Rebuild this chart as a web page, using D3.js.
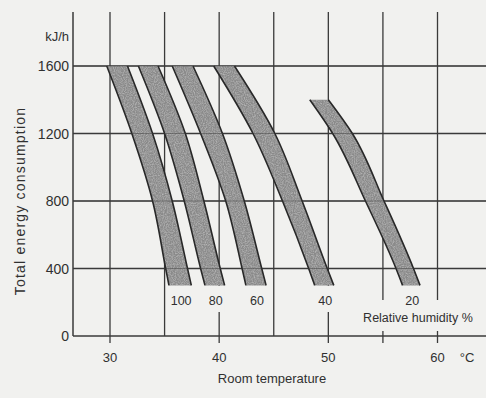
<!DOCTYPE html>
<html>
<head>
<meta charset="utf-8">
<script src="https://cdn.jsdelivr.net/npm/d3@7"></script>
<style>
  body { margin: 0; background: #f1f1ef; }
  svg { display: block; }
  text { font-family: "Liberation Sans", Arial, sans-serif; fill: #303030; }
</style>
</head>
<body>
<div id="chart"></div>
<script>
// Data
const humidity = [100, 80, 60, 40, 20];
const bandEnergy = [
  [1600, 1200, 800, 400, 300],
  [1600, 1200, 800, 400, 300],
  [1600, 1200, 800, 400, 300],
  [1600, 1200, 800, 400, 300],
  [1400, 1200, 800, 400, 300]
];
// left (cooler) edge of each band, deg C
const leftTemp = [
  [29.7, 32.0, 33.9, 35.1, 35.4],
  [32.6, 35.0, 36.8, 38.3, 38.7],
  [35.7, 38.3, 40.6, 42.1, 42.45],
  [39.5, 43.1, 45.8, 48.2, 48.75],
  [48.3, 50.4, 53.4, 56.2, 56.8]
];
// right (warmer) edge of each band, deg C
const rightTemp = [
  [31.6, 33.9, 35.7, 37.1, 37.45],
  [34.4, 36.9, 38.6, 40.1, 40.5],
  [37.6, 40.3, 42.3, 43.9, 44.3],
  [41.4, 45.1, 47.6, 49.9, 50.5],
  [50.0, 52.2, 55.1, 57.8, 58.4]
];
const energyTicks = [0, 400, 800, 1200, 1600];
const tempGrid = [30, 35, 40, 45, 50, 55, 60];
const tempTicks = [30, 40, 50, 60];
const tempMarks = [30, 40, 50, 55, 60];

const width = 486;
const height = 398;
const axisX = 73, gridTop = 12;

const svg = d3.select("#chart")
  .append("svg")
  .attr("width", width)
  .attr("height", height);

svg.append("rect")
  .attr("width", width)
  .attr("height", height)
  .attr("fill", "#f1f1ef");

// scales
const x = d3.scaleLinear().domain([30, 60]).range([110, 437.5]);
const y = d3.scaleLinear().domain([0, 1600]).range([336, 66]);

// grain for the shaded bands
const defs = svg.append("defs");
const f = defs.append("filter").attr("id", "grain");
f.append("feTurbulence")
  .attr("type", "fractalNoise")
  .attr("baseFrequency", 0.9)
  .attr("numOctaves", 2)
  .attr("seed", 3)
  .attr("result", "noise");
f.append("feColorMatrix")
  .attr("in", "noise")
  .attr("type", "matrix")
  .attr("values", "0 0 0 0 1  0 0 0 0 1  0 0 0 0 1  0.55 0 0 0 -0.2")
  .attr("result", "spots");
f.append("feComposite")
  .attr("in", "spots")
  .attr("in2", "SourceGraphic")
  .attr("operator", "in")
  .attr("result", "clip");
f.append("feMerge").call(m => {
  m.append("feMergeNode").attr("in", "SourceGraphic");
  m.append("feMergeNode").attr("in", "clip");
});

// grid
const grid = svg.append("g")
  .attr("stroke", "#3a3a3a")
  .attr("stroke-width", 1.3);

grid.selectAll(".h")
  .data(energyTicks)
  .enter()
  .append("line")
  .attr("x1", axisX)
  .attr("x2", width)
  .attr("y1", d => y(d))
  .attr("y2", d => y(d))
  .attr("stroke-width", d => d === 0 ? 1.7 : 1.3);

grid.selectAll(".v")
  .data(tempGrid)
  .enter()
  .append("line")
  .attr("x1", d => x(d))
  .attr("x2", d => x(d))
  .attr("y1", gridTop)
  .attr("y2", y(0));

grid.selectAll(".t")
  .data(tempMarks)
  .enter()
  .append("line")
  .attr("x1", d => x(d))
  .attr("x2", d => x(d))
  .attr("y1", y(0))
  .attr("y2", y(0) + 7);

grid.append("line")
  .attr("x1", axisX).attr("x2", axisX)
  .attr("y1", gridTop).attr("y2", y(0))
  .attr("stroke-width", 1.5);

// bands
const bands = humidity.map((h, i) => ({
  h: h,
  pts: bandEnergy[i].map((e, j) => ({ e: e, l: leftTemp[i][j], r: rightTemp[i][j] }))
}));

// x is a smooth monotone function of y along each edge
const curve = d3.curveMonotoneY;
const area = d3.area()
  .y(d => y(d.e))
  .x0(d => x(d.l))
  .x1(d => x(d.r))
  .curve(curve);
const edgeL = d3.line().x(d => x(d.l)).y(d => y(d.e)).curve(curve);
const edgeR = d3.line().x(d => x(d.r)).y(d => y(d.e)).curve(curve);

const bg = svg.append("g");
bg.selectAll("path.band")
  .data(bands)
  .enter()
  .append("path")
  .attr("class", "band")
  .attr("d", d => area(d.pts))
  .attr("fill", "#8a8a8a")
  .attr("filter", "url(#grain)");

bg.selectAll("path.el")
  .data(bands)
  .enter()
  .append("path")
  .attr("d", d => edgeL(d.pts))
  .attr("fill", "none")
  .attr("stroke", "#282828")
  .attr("stroke-width", 1.6);

bg.selectAll("path.er")
  .data(bands)
  .enter()
  .append("path")
  .attr("d", d => edgeR(d.pts))
  .attr("fill", "none")
  .attr("stroke", "#282828")
  .attr("stroke-width", 1.6);

// the grid shows faintly through the bands
svg.append("g")
  .attr("stroke", "#3a3a3a")
  .attr("stroke-width", 1)
  .attr("opacity", 0.45)
  .selectAll("line")
  .data(energyTicks.filter(d => d > 0))
  .enter()
  .append("line")
  .attr("x1", axisX).attr("x2", width)
  .attr("y1", d => y(d)).attr("y2", d => y(d));

// labels that interrupt the grid
const labels = svg.append("g");

function knockout(sel, padX, y0, y1) {
  sel.each(function() {
    const b = this.getBBox();
    labels.insert("rect", ":first-child")
      .attr("x", b.x - padX)
      .attr("y", y0)
      .attr("width", b.width + padX * 2)
      .attr("height", y1 - y0)
      .attr("fill", "#f1f1ef");
  });
}

const bandText = labels.selectAll("text.hum")
  .data(bands)
  .enter()
  .append("text")
  .attr("class", "hum")
  .attr("x", d => x((d.pts[d.pts.length - 1].l + d.pts[d.pts.length - 1].r) / 2) + 1)
  .attr("y", 305)
  .attr("text-anchor", "middle")
  .attr("font-size", 12.5)
  .text(d => d.h);
knockout(bandText, 2, 286, 312);

const rh = labels.append("text")
  .attr("x", 418)
  .attr("y", 322)
  .attr("text-anchor", "middle")
  .attr("font-size", 12.5)
  .text("Relative humidity %");
knockout(rh, 3, 300, 331);

// y axis text
labels.selectAll("text.yt")
  .data(energyTicks)
  .enter()
  .append("text")
  .attr("x", 69)
  .attr("y", d => y(d) + 5)
  .attr("text-anchor", "end")
  .attr("font-size", 14)
  .text(d => d);

labels.append("text")
  .attr("x", 69)
  .attr("y", 41)
  .attr("text-anchor", "end")
  .attr("font-size", 13)
  .text("kJ/h");

labels.append("text")
  .attr("transform", "translate(25,201) rotate(-90)")
  .attr("text-anchor", "middle")
  .attr("font-size", 14)
  .attr("letter-spacing", 1.2)
  .text("Total energy consumption");

// x axis text
labels.selectAll("text.xt")
  .data(tempTicks)
  .enter()
  .append("text")
  .attr("x", d => x(d))
  .attr("y", 362)
  .attr("text-anchor", "middle")
  .attr("font-size", 13)
  .text(d => d);

labels.append("text")
  .attr("x", 467)
  .attr("y", 362)
  .attr("text-anchor", "middle")
  .attr("font-size", 13)
  .text("°C");

labels.append("text")
  .attr("x", 272)
  .attr("y", 383)
  .attr("text-anchor", "middle")
  .attr("font-size", 13)
  .text("Room temperature");
</script>
</body>
</html>
